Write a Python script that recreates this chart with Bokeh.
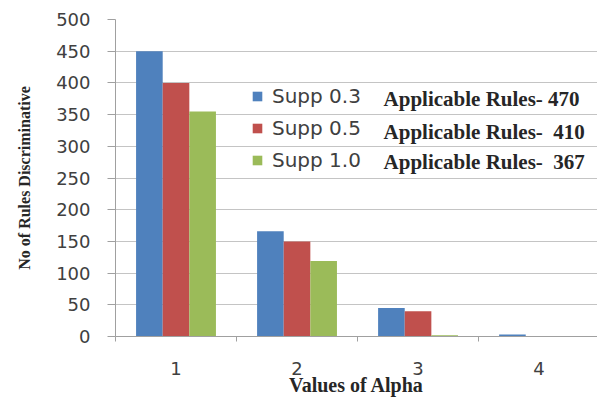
from bokeh.plotting import figure
from bokeh.models import ColumnDataSource, FixedTicker, Legend, LegendItem, Label, Range1d
from bokeh.transform import dodge
from bokeh.embed import file_html
from bokeh.resources import INLINE

# ---- data ----
alpha = [1, 2, 3, 4]
supp03 = [450, 166, 45, 3]
supp05 = [400, 150, 40, 0]
supp10 = [355, 119, 2, 0]
series_names = ["Supp 0.3", "Supp 0.5", "Supp 1.0"]
rule_notes = ["Applicable Rules- 470", "Applicable Rules-\u00a0 410", "Applicable Rules-\u00a0 367"]
x_title = "Values of Alpha"
y_title = "No of Rules Discriminative"
y_ticks = list(range(0, 501, 50))
colors = ["#4F81BD", "#C0504D", "#9BBB59"]

src = ColumnDataSource(dict(x=alpha, s03=supp03, s05=supp05, s10=supp10))

p = figure(width=597, height=398, output_backend="svg", toolbar_location=None,
           x_range=Range1d(0.5, 4.483), y_range=Range1d(0, 500),
           min_border_left=115, min_border_right=0, min_border_top=19, min_border_bottom=62)
p.outline_line_color = None
p.background_fill_color = "white"
p.border_fill_color = "white"

bw = 0.22
renderers = []
for col, off, c in zip(["s03", "s05", "s10"], [-bw, 0, bw], colors):
    r = p.vbar(x=dodge("x", off), top=col, width=bw, source=src,
               fill_color=c, line_color=None)
    renderers.append(r)

# axes
xa = p.xaxis[0]
xa.ticker = FixedTicker(ticks=alpha, minor_ticks=[a - 0.5 for a in alpha] + [alpha[-1] + 0.5])
xa.major_tick_out = 0
xa.major_tick_in = 0
xa.minor_tick_out = 5
xa.minor_tick_in = 0
xa.minor_tick_line_color = "#a0a0a0"
xa.axis_line_color = "#a0a0a0"
xa.major_label_standoff = 20
xa.major_label_text_font = "DejaVu Sans"
xa.major_label_text_font_size = "18px"
xa.major_label_text_color = "#404040"
xa.axis_label = x_title
xa.axis_label_text_font = "Liberation Serif"
xa.axis_label_text_font_style = "bold"
xa.axis_label_text_font_size = "20px"
xa.axis_label_text_color = "#262626"
xa.axis_label_standoff = -4

ya = p.yaxis[0]
ya.ticker = FixedTicker(ticks=y_ticks, minor_ticks=[])
ya.major_tick_out = 8
ya.major_tick_in = 0
ya.major_tick_line_color = "#a0a0a0"
ya.axis_line_color = "#a0a0a0"
ya.minor_tick_line_color = None
ya.major_label_standoff = 17
ya.major_label_text_font = "DejaVu Sans"
ya.major_label_text_font_size = "18px"
ya.major_label_text_color = "#404040"
ya.axis_label = y_title
ya.axis_label_text_font = "Liberation Serif"
ya.axis_label_text_font_style = "bold"
ya.axis_label_text_font_size = "16px"
ya.axis_label_text_color = "#262626"
ya.axis_label_standoff = 20

p.xgrid.grid_line_color = None
p.ygrid.ticker = FixedTicker(ticks=y_ticks)
p.ygrid.grid_line_color = "#c4c4c4"

legend = Legend(items=[LegendItem(label=n, renderers=[r]) for n, r in zip(series_names, renderers)],
                location=(136, 164), orientation="vertical",
                background_fill_alpha=0, border_line_color=None,
                padding=0, margin=0, spacing=8,
                glyph_width=12, glyph_height=12, label_standoff=9,
                label_text_font="DejaVu Sans", label_text_font_size="20px",
                label_text_color="#404040", label_height=20)
p.add_layout(legend, "center")

note_y = [375, 323, 276]
for txt, yy in zip(rule_notes, note_y):
    p.add_layout(Label(x=2.715, y=yy, text=txt, text_font="Liberation Serif",
                       text_font_style="bold", text_font_size="21px",
                       text_color="#262626", text_baseline="middle"))

open("out.html", "w").write(file_html(p, INLINE))
